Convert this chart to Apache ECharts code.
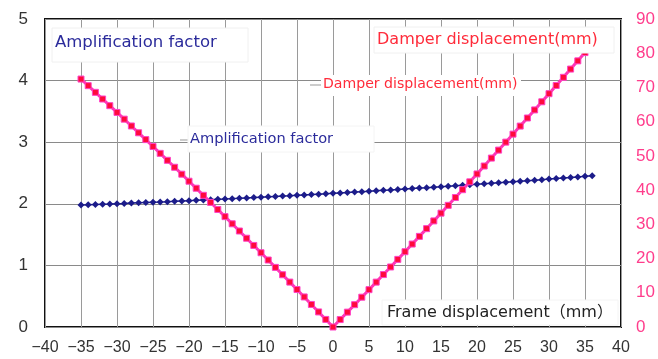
<!DOCTYPE html>
<html><head><meta charset="utf-8">
<script src="https://cdn.jsdelivr.net/npm/echarts@6/dist/echarts.min.js"></script>
<style>html,body{margin:0;padding:0;background:#fff}#c{width:658px;height:359px}</style>
</head><body><div id="c"></div>
<script>
// Frame displacement (mm) for each series
const frameAmp = [-35,-34,-33,-32,-31,-30,-29,-28,-27,-26,-25,-24,-23,-22,-21,-20,-19,-18,-17,-16,-15,-14,-13,-12,-11,-10,-9,-8,-7,-6,-5,-4,-3,-2,-1,0,1,2,3,4,5,6,7,8,9,10,11,12,13,14,15,16,17,18,19,20,21,22,23,24,25,26,27,28,29,30,31,32,33,34,35,36];
const ampFactor = [1.980,1.984,1.989,1.993,1.997,2.002,2.006,2.011,2.016,2.021,2.026,2.030,2.035,2.041,2.046,2.051,2.056,2.062,2.067,2.073,2.078,2.084,2.089,2.095,2.101,2.107,2.113,2.119,2.125,2.131,2.138,2.144,2.150,2.157,2.163,2.170,2.177,2.183,2.190,2.197,2.204,2.211,2.218,2.225,2.233,2.240,2.247,2.255,2.262,2.270,2.278,2.285,2.293,2.301,2.309,2.317,2.325,2.333,2.342,2.350,2.358,2.367,2.375,2.384,2.392,2.401,2.410,2.419,2.428,2.437,2.446,2.455];
const frameDamp = [-35,-34,-33,-32,-31,-30,-29,-28,-27,-26,-25,-24,-23,-22,-21,-20,-19,-18,-17,-16,-15,-14,-13,-12,-11,-10,-9,-8,-7,-6,-5,-4,-3,-2,-1,0,1,2,3,4,5,6,7,8,9,10,11,12,13,14,15,16,17,18,19,20,21,22,23,24,25,26,27,28,29,30,31,32,33,34,35];
const damperDisp = [72.45,70.52,68.57,66.62,64.67,62.70,60.73,58.74,56.75,54.76,52.75,50.74,48.71,46.68,44.65,42.60,40.55,38.48,36.41,34.34,32.25,30.16,28.05,25.94,23.83,21.70,19.57,17.42,15.27,13.12,10.95,8.78,6.59,4.40,2.21,0,2.17,4.34,6.52,8.71,10.91,13.11,15.32,17.54,19.76,22.00,24.24,26.48,28.74,31.00,33.27,35.55,37.83,40.12,42.42,44.72,47.04,49.36,51.69,54.02,56.36,58.71,61.07,63.43,65.81,68.18,70.57,72.96,75.37,77.77,80.19];
const xTicks = {min:-40, max:40, step:5};
const leftTicks = {min:0, max:5, step:1};
const rightTicks = {min:0, max:90, step:10};
const titleAmp = 'Amplification factor';
const titleDamp = 'Damper displacement(mm)';
const titleFrame = 'Frame displacement（mm）';

const FONT = '"Liberation Sans", Arial, sans-serif';
const TFONT = '"DejaVu Sans", "Noto Sans CJK JP", sans-serif';
const chart = echarts.init(document.getElementById('c'), null, {renderer:'canvas'});
const minus = v => String(v).replace('-', '\u2212');
chart.setOption({
  animation:false,
  grid:{left:45, right:37, top:19, bottom:32, show:true, borderColor:'#111', borderWidth:2, containLabel:false},
  xAxis:{type:'value', min:xTicks.min, max:xTicks.max, interval:xTicks.step,
    axisLine:{show:false}, axisTick:{show:false},
    splitLine:{show:true, lineStyle:{color:'#9a9a9a', width:1}},
    axisLabel:{color:'#333', fontSize:16, fontFamily:FONT, margin:13, formatter:minus}},
  yAxis:[
    {type:'value', min:leftTicks.min, max:leftTicks.max, interval:leftTicks.step,
     axisLine:{show:false}, axisTick:{show:false},
     splitLine:{show:true, lineStyle:{color:'#8a8a8a', width:1}},
     axisLabel:{color:'#333', fontSize:17, fontFamily:FONT, margin:17}},
    {type:'value', min:rightTicks.min, max:rightTicks.max, interval:rightTicks.step, position:'right',
     axisLine:{show:false}, axisTick:{show:false}, splitLine:{show:false},
     axisLabel:{color:'#ff3d8c', fontSize:17, fontFamily:FONT, margin:15}}
  ],
  series:[
    {type:'line', yAxisIndex:0, data:frameAmp.map((x,i)=>[x, ampFactor[i]]),
     symbol:'diamond', symbolSize:7, lineStyle:{color:'#1c1c8a', width:1.5},
     itemStyle:{color:'#1c1c8a'}, z:3},
    {type:'line', yAxisIndex:1, data:frameDamp.map((x,i)=>[x, damperDisp[i]]),
     symbol:'rect', symbolSize:6, lineStyle:{color:'#ff33b4', width:3},
     itemStyle:{color:'#ff0a3c', borderColor:'#ff44c8', borderWidth:1}, z:4}
  ],
  graphic:[
    {type:'rect', shape:{x:52, y:28, width:196, height:34}, style:{fill:'#fff', stroke:'#f0f0f0'}, z:10},
    {type:'text', left:55, top:34, z:11, style:{text:titleAmp, fill:'#2b2b9b', font:'16.5px '+TFONT}},
    {type:'rect', shape:{x:374, y:27, width:240, height:26}, style:{fill:'#fff', stroke:'#f0f0f0'}, z:10},
    {type:'text', left:377, top:32, z:11, style:{text:titleDamp, fill:'#ff2b3a', font:'16px '+TFONT}},
    {type:'line', shape:{x1:310, y1:85, x2:321, y2:85}, style:{stroke:'#999', lineWidth:1}, z:10},
    {type:'rect', shape:{x:321, y:75, width:200, height:21}, style:{fill:'#fff'}, z:10},
    {type:'text', left:323, top:77, z:11, style:{text:titleDamp, fill:'#ff2b3a', font:'14.1px '+TFONT}},
    {type:'line', shape:{x1:180, y1:140, x2:189, y2:140}, style:{stroke:'#999', lineWidth:1}, z:10},
    {type:'rect', shape:{x:188, y:126, width:186, height:26}, style:{fill:'#fff', stroke:'#f4f4f4'}, z:10},
    {type:'text', left:190, top:132, z:11, style:{text:titleAmp, fill:'#2b2b9b', font:'14.6px '+TFONT}},
    {type:'rect', shape:{x:382, y:300, width:236, height:25}, style:{fill:'#fff', stroke:'#f4f4f4'}, z:10},
    {type:'text', left:387, top:305, z:11, style:{text:titleFrame, fill:'#222', font:'16px '+TFONT}}
  ]
});
</script></body></html>
